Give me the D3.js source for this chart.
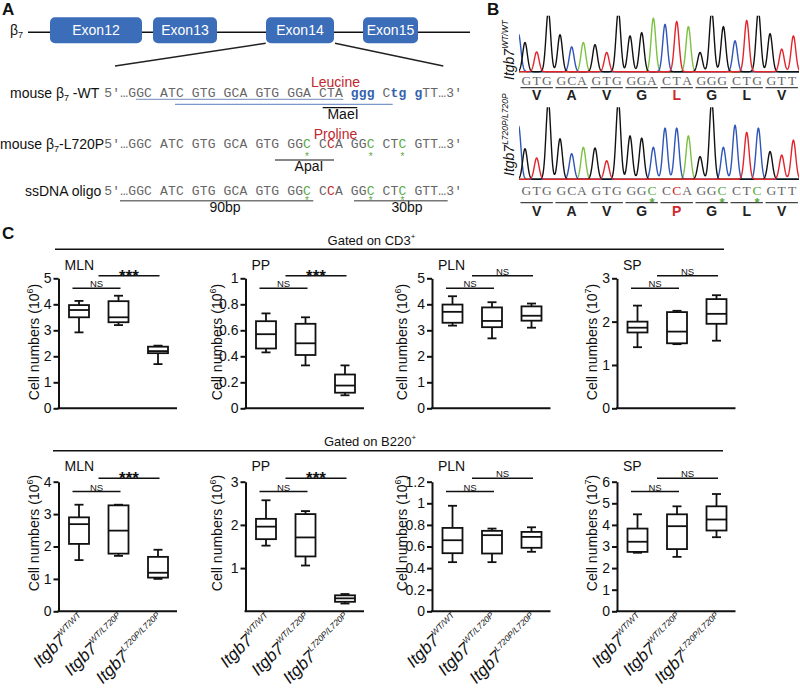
<!DOCTYPE html>
<html><head><meta charset="utf-8">
<script src="https://cdn.jsdelivr.net/npm/d3@7"></script>
<style>body{margin:0;background:#fff}svg{display:block}</style>
</head><body>
<svg id="fig" width="800" height="689"></svg>
<script>
// ---------------- DATA ----------------
const exonNames = ["Exon12","Exon13","Exon14","Exon15"];
const exonStart = [50,153,266,363];
const exonEnd = [142,217,334,418];
const seqWT  = "5′…GGC ATC GTG GCA GTG GGA CTA ggg Ctg gTT…3′";
const seqMut = "5′…GGC ATC GTG GCA GTG GGC CCA GGC CTC GTT…3′";
const mutGreen = [25,33,37];
const mutRed = [28];

const codonsWT  = ["GTG","GCA","GTG","GGA","CTA","GGG","CTG","GTT"];
const aminoWT   = ["V","A","V","G","L","G","L","V"];
const codonsMut = ["GTG","GCA","GTG","GGC","CCA","GGC","CTC","GTT"];
const aminoMut  = ["V","A","V","G","P","G","L","V"];
const mutBaseGreen = [11,17,20];
const mutBaseRed = [13];
// peak intensities per base (100 = top of window)
const peaksWT  = [53,36,110,67,45,53,49,35,110,65,71,97,86,91,82,35,110,82,56,93,110,69,41,65];
const peaksMut = [43,30,110,57,36,45,44,26,110,61,58,45,72,72,61,32,110,45,76,66,72,39,34,55];
const preWT = {base:"C", pos:-0.55, h:68};
const preMut = {base:"C", pos:-0.55, h:75};

const genotypes = ["WT/WT","WT/L720P","L720P/L720P"];
// box stats: [min, q1, median, q3, max]
const cd3MLN = [[2.92,3.50,3.78,3.97,4.13],[3.20,3.31,3.50,4.12,4.33],[1.70,2.12,2.20,2.37,2.41]];
const cd3PP  = [[0.43,0.46,0.57,0.67,0.73],[0.33,0.41,0.50,0.65,0.70],[0.10,0.12,0.175,0.26,0.33]];
const cd3PLN = [[3.18,3.29,3.71,3.99,4.31],[2.69,3.12,3.36,3.88,4.08],[3.10,3.37,3.56,3.92,4.03]];
const cd3SP  = [[1.41,1.75,1.86,2.00,2.37],[1.48,1.50,1.77,2.22,2.25],[1.56,1.95,2.18,2.52,2.61]];
const b220MLN = [[1.58,2.08,2.69,2.90,3.29],[1.71,1.78,2.49,3.27,3.29],[1.00,1.04,1.19,1.68,1.90]];
const b220PP  = [[1.52,1.67,1.96,2.14,2.57],[1.06,1.27,1.71,2.25,2.32],[0.18,0.22,0.30,0.37,0.40]];
const b220PLN = [[0.455,0.538,0.658,0.772,0.977],[0.455,0.535,0.705,0.745,0.766],[0.551,0.588,0.689,0.735,0.778]];
const b220SP  = [[2.71,2.75,3.22,3.83,4.49],[2.52,2.88,3.94,4.49,4.86],[3.43,3.74,4.25,4.86,5.43]];

const ticks5 = [0,1,2,3,4,5];
const ticks1 = [0,0.2,0.4,0.6,0.8,1];
const ticks3 = [0,1,2,3];
const ticks4 = [0,1,2,3,4];
const ticksPP2 = [1,2,3];
const ticks12 = [0,0.2,0.4,0.6,0.8,1,1.2];
const ticks6 = [0,1,2,3,4,5,6];

const panelNames = ["MLN","PP","PLN","SP"];
const sigCD3  = [["NS","***"],["NS","***"],["NS","NS"],["NS","NS"]];
const sigB220 = [["NS","***"],["NS","***"],["NS","NS"],["NS","NS"]];

// ---------------- DRAW ----------------
const SANS = "'Liberation Sans', Arial, Helvetica, sans-serif";
const MONO = "'Liberation Mono', 'Courier New', monospace";
const SERIF = "'Liberation Serif', 'Times New Roman', serif";
const svg = d3.select("#fig");
svg.append("rect").attr("width",800).attr("height",689).attr("fill","#fff");

// panel letters
[["A",2,14.5],["B",487,14.5],["C",2,239]].forEach(([t,x,y])=>{
  svg.append("text").attr("x",x).attr("y",y).attr("font-family",SANS)
    .attr("font-size",17).attr("font-weight","bold").attr("fill","#111").text(t);
});

// ===== Panel A =====
const A = svg.append("g");
const gx = d3.scaleLinear().domain([0,470]).range([0,470]);
A.append("text").attr("x",10).attr("y",35).attr("font-family",SANS).attr("font-size",14).attr("fill","#111")
  .call(t=>{t.append("tspan").text("β");t.append("tspan").attr("font-size",9).attr("dy",3).text("7");});
A.append("line").attr("x1",gx(28)).attr("x2",gx(470)).attr("y1",32.3).attr("y2",32.3).attr("stroke","#111").attr("stroke-width",1.5);
A.selectAll(".exon").data(exonNames).join("rect")
  .attr("x",(d,i)=>gx(exonStart[i])).attr("width",(d,i)=>gx(exonEnd[i])-gx(exonStart[i]))
  .attr("y",17.3).attr("height",26).attr("rx",5).attr("fill","#3b6db8");
A.selectAll(".exonT").data(exonNames).join("text")
  .attr("x",(d,i)=>(gx(exonStart[i])+gx(exonEnd[i]))/2).attr("y",35).attr("text-anchor","middle")
  .attr("font-family",SANS).attr("font-size",14).attr("fill","#fff").text(d=>d);
A.append("line").attr("x1",265.7).attr("y1",43.3).attr("x2",115).attr("y2",66).attr("stroke","#222").attr("stroke-width",1.5);
A.append("line").attr("x1",335).attr("y1",43.3).attr("x2",443.3).attr("y2",66).attr("stroke","#222").attr("stroke-width",1.5);

const seqX0 = 104.3, charW = 7.95;
const cx = i => seqX0 + (i+0.5)*charW;
function drawSeq(str, y, colorFn){
  A.append("g").selectAll("text").data(Array.from(str)).join("text")
    .attr("x",(d,i)=>cx(i)).attr("y",y).attr("text-anchor","middle")
    .attr("font-family",MONO).attr("font-size",13)
    .attr("font-weight",(d,i)=>colorFn(d,i)==="#3462ae"?"bold":"normal")
    .attr("fill",(d,i)=>colorFn(d,i)).text(d=>d);
}
function label(txt, x, y, opts={}){
  const t = A.append("text").attr("x",x).attr("y",y).attr("font-family",SANS)
    .attr("font-size",opts.size||14).attr("fill",opts.fill||"#111")
    .attr("text-anchor",opts.anchor||"start");
  t.text(txt); return t;
}
// row 1
A.append("text").attr("x",10).attr("y",97.5).attr("font-family",SANS).attr("font-size",14).attr("fill","#111")
  .call(t=>{t.append("tspan").text("mouse β");t.append("tspan").attr("font-size",9).attr("dy",3).text("7");t.append("tspan").attr("dy",-3).text(" -WT");});
drawSeq(seqWT, 97.3, (d)=> (d>="a"&&d<="z") ? "#3462ae" : "#666");
label("Leucine",335.5,86.5,{fill:"#c1272d",anchor:"middle"});
A.append("line").attr("x1",136).attr("x2",343.3).attr("y1",99.3).attr("y2",99.3).attr("stroke","#8da2c6").attr("stroke-width",1.2);
A.append("line").attr("x1",175).attr("x2",392.7).attr("y1",104.3).attr("y2",104.3).attr("stroke","#7a97cc").attr("stroke-width",1.2);
A.append("line").attr("x1",322.7).attr("x2",357.3).attr("y1",107.7).attr("y2",107.7).attr("stroke","#111").attr("stroke-width",1.2);
label("MaeI",343,118.5,{anchor:"middle"});
// row 2
A.append("text").attr("x",0).attr("y",148.5).attr("font-family",SANS).attr("font-size",14).attr("fill","#111")
  .call(t=>{t.append("tspan").text("mouse β");t.append("tspan").attr("font-size",9).attr("dy",3).text("7");t.append("tspan").attr("dy",-3).text("-L720P");});
const mutColor = (d,i)=> mutGreen.includes(i) ? "#5aa845" : mutRed.includes(i) ? "#c1272d" : "#666";
drawSeq(seqMut, 148.3, mutColor);
label("Proline",335.5,138.5,{fill:"#c1272d",anchor:"middle"});
A.append("g").selectAll("text").data(mutGreen).join("text").attr("x",d=>cx(d)).attr("y",159.5)
  .attr("text-anchor","middle").attr("font-family",SANS).attr("font-size",10).attr("fill","#5aa845").text("*");
A.append("line").attr("x1",275).attr("x2",334).attr("y1",160).attr("y2",160).attr("stroke","#111").attr("stroke-width",1.2);
label("ApaI",309,171,{anchor:"middle"});
// row 3
label("ssDNA  oligo",25,195.5);
drawSeq(seqMut, 195, mutColor);
A.append("g").selectAll("text").data(mutGreen).join("text").attr("x",d=>cx(d)).attr("y",204)
  .attr("text-anchor","middle").attr("font-family",SANS).attr("font-size",10).attr("fill","#5aa845").text("*");
A.append("line").attr("x1",120).attr("x2",313.3).attr("y1",200.7).attr("y2",200.7).attr("stroke","#777").attr("stroke-width",1.5);
A.append("line").attr("x1",354).attr("x2",447.7).attr("y1",200.7).attr("y2",200.7).attr("stroke","#777").attr("stroke-width",1.5);
label("90bp",225,212,{anchor:"middle"});
label("30bp",407,212,{anchor:"middle"});

// ===== Panel B =====
const baseColor = {G:"#111111", A:"#7cc242", T:"#e3242b", C:"#2f55b8"};
const bx = d3.scaleLinear().domain([0,23]).range([525,793.4]);
const B = svg.append("g");
const defs = svg.append("defs");
function chrom(codons, peaks, pre, baseY, winH, clipId, amino, seqY, ulY, aaY, aaRed, greenIdx, redIdx, labelY, sup){
  const bases = Array.from(codons.join(""));
  const yS = d3.scaleLinear().domain([0,100]).range([baseY, baseY-winH]);
  defs.append("clipPath").attr("id",clipId).append("rect").attr("x",519).attr("y",baseY-winH-1).attr("width",280).attr("height",winH+4);
  const pk = bases.map((b,i)=>({base:b,pos:i,h:peaks[i]})).concat([pre]);
  const sigma = 0.2; // in base units
  const xs = d3.range(-1.2, 23.8, 0.02);
  const order = ["A","C","G","T"];
  const g = B.append("g").attr("clip-path",`url(#${clipId})`);
  order.forEach(c=>{
    const mine = pk.filter(p=>p.base===c);
    const pts = xs.map(x=>{
      let v = 0; mine.forEach(p=>{ v += p.h*Math.exp(-((x-p.pos)**2)/(2*sigma*sigma)); });
      return [x, Math.min(v,104)];
    });
    g.append("path").attr("d", d3.line().x(d=>bx(d[0])).y(d=>yS(d[1]))(pts))
      .attr("fill","none").attr("stroke",baseColor[c]).attr("stroke-width",1.4);
  });
  // sequence letters, grouped per codon
  const lx = i => bx(3*Math.floor(i/3)+1) + ((i%3)-1)*10.3;
  B.append("g").selectAll("text").data(bases).join("text")
    .attr("x",(d,i)=>lx(i)).attr("y",seqY).attr("text-anchor","middle")
    .attr("font-family",SERIF).attr("font-size",13.5)
    .attr("fill",(d,i)=>greenIdx.includes(i)?"#5aa845":redIdx.includes(i)?"#d0282e":"#666").text(d=>d);
  B.append("g").selectAll("text").data(greenIdx).join("text")
    .attr("x",d=>lx(d)).attr("y",seqY+12).attr("text-anchor","middle")
    .attr("font-family",SANS).attr("font-size",13).attr("font-weight","bold").attr("fill","#5aa845").text("*");
  B.append("g").selectAll("line").data(codons).join("line")
    .attr("x1",(d,i)=>bx(3*i+1)-16.2).attr("x2",(d,i)=>bx(3*i+1)+16.2).attr("y1",ulY).attr("y2",ulY)
    .attr("stroke","#444").attr("stroke-width",1.2);
  B.append("g").selectAll("text").data(amino).join("text")
    .attr("x",(d,i)=>bx(3*i+1)).attr("y",aaY).attr("text-anchor","middle")
    .attr("font-family",SANS).attr("font-size",14).attr("font-weight","bold")
    .attr("fill",(d,i)=>i===aaRed?"#d0282e":"#222").text(d=>d);
  B.append("text").attr("transform",`translate(514,${labelY}) rotate(-90)`)
    .attr("font-family",SANS).attr("font-style","italic").attr("fill","#111")
    .call(t=>{t.append("tspan").attr("font-size",14).text("Itgb7");t.append("tspan").attr("font-size",8.5).attr("dy",-6).text(sup);});
}
chrom(codonsWT, peaksWT, preWT, 71.7, 55, "clipTop", aminoWT, 85, 87.7, 99.5, 4, [], [], 80, "WT/WT");
chrom(codonsMut, peaksMut, preMut, 179.3, 71, "clipBot", aminoMut, 195, 202.7, 216, 4, mutBaseGreen, mutBaseRed, 176, "L720P/L720P");

// ===== Panel C =====
const C = svg.append("g");
const colAxisX = [58.5, 245.5, 432, 617];
const ylabOff = [-20, -24, -25, -20];
const rows = [
  {gate:"CD3", gateY:245, lineY:249.3, lineX:[55,724], y0:408.3, y1:278.3, titleY:270, sigY:[288.3,275.7], ylabY:342,
   data:[cd3MLN,cd3PP,cd3PLN,cd3SP], max:[5,1,5,3], ticks:[ticks5,ticks1,ticks5,ticks3], exp:[6,6,6,7], sig:sigCD3, xlab:false},
  {gate:"B220", gateY:445.5, lineY:450.7, lineX:[53,723], y0:611.3, y1:481.7, titleY:471, sigY:[491.5,478.3], ylabY:533,
   data:[b220MLN,b220PP,b220PLN,b220SP], max:[4,3,1.2,6], ticks:[ticks4,ticksPP2,ticks12,ticks6], exp:[6,6,6,7], sig:sigB220, xlab:true}
];
rows.forEach(r=>{
  C.append("text").attr("x",(r.lineX[0]+r.lineX[1])/2 - 18).attr("y",r.gateY).attr("text-anchor","middle")
    .attr("font-family",SANS).attr("font-size",13).attr("fill","#111")
    .call(t=>{t.append("tspan").text("Gated on "+r.gate);t.append("tspan").attr("font-size",8).attr("dy",-6).text("+");});
  C.append("line").attr("x1",r.lineX[0]).attr("x2",r.lineX[1]).attr("y1",r.lineY).attr("y2",r.lineY).attr("stroke","#111").attr("stroke-width",1.5);
  panelNames.forEach((name,k)=>{
    const ax = colAxisX[k];
    const g = C.append("g");
    const x = d3.scalePoint().domain(genotypes).range([ax+20.5, ax+99.5]);
    const y = d3.scaleLinear().domain([0,r.max[k]]).range([r.y0,r.y1]);
    const yAxis = g.append("g").attr("transform",`translate(${ax},0)`)
      .call(d3.axisLeft(y).tickValues(r.ticks[k]).tickSize(5).tickSizeOuter(0).tickPadding(2).tickFormat(d=>String(d)));
    yAxis.select(".domain").attr("stroke","#111").attr("stroke-width",2);
    yAxis.selectAll(".tick line").attr("stroke","#111").attr("stroke-width",2);
    yAxis.selectAll(".tick text").attr("font-family",SANS).attr("font-size",14).attr("fill","#111");
    g.append("line").attr("x1",ax-1).attr("x2",ax+118.5).attr("y1",r.y0).attr("y2",r.y0).attr("stroke","#111").attr("stroke-width",2);
    // title
    g.append("text").attr("x",ax+6).attr("y",r.titleY).attr("font-family",SANS).attr("font-size",14).attr("fill","#111").text(name);
    // y label
    g.append("text").attr("transform",`translate(${ax+ylabOff[k]},${r.ylabY}) rotate(-90)`).attr("text-anchor","middle")
      .attr("font-family",SANS).attr("font-size",14).attr("fill","#111")
      .call(t=>{t.append("tspan").text("Cell numbers (10");t.append("tspan").attr("font-size",9).attr("dy",-6).text(r.exp[k]);t.append("tspan").attr("dy",6).text(")");});
    // boxes
    const bw = 20, cw = 9;
    const boxes = g.selectAll(".box").data(r.data[k].map((s,i)=>({g:genotypes[i],s}))).join("g");
    boxes.each(function(d){
      const b = d3.select(this), c = x(d.g), s = d.s;
      const st = sel=>sel.attr("stroke","#111").attr("stroke-width",1.8).attr("fill","none");
      b.append("line").attr("x1",c).attr("x2",c).attr("y1",y(s[0])).attr("y2",y(s[1])).call(st);
      b.append("line").attr("x1",c).attr("x2",c).attr("y1",y(s[3])).attr("y2",y(s[4])).call(st);
      b.append("line").attr("x1",c-cw/2).attr("x2",c+cw/2).attr("y1",y(s[0])).attr("y2",y(s[0])).call(st);
      b.append("line").attr("x1",c-cw/2).attr("x2",c+cw/2).attr("y1",y(s[4])).attr("y2",y(s[4])).call(st);
      b.append("rect").attr("x",c-bw/2).attr("width",bw).attr("y",y(s[3])).attr("height",y(s[1])-y(s[3])).call(st);
      b.append("line").attr("x1",c-bw/2).attr("x2",c+bw/2).attr("y1",y(s[2])).attr("y2",y(s[2])).call(st);
    });
    // significance
    const brackets = [{lab:r.sig[k][0], x1:ax+14, x2:ax+62, y:r.sigY[0]},{lab:r.sig[k][1], x1:ax+40, x2:ax+101, y:r.sigY[1]}];
    brackets.forEach(bk=>{
      g.append("line").attr("x1",bk.x1).attr("x2",bk.x2).attr("y1",bk.y).attr("y2",bk.y).attr("stroke","#111").attr("stroke-width",1.5);
      const star = bk.lab==="***";
      g.append("text").attr("x",(bk.x1+bk.x2)/2).attr("y",star?bk.y+6:bk.y-1).attr("text-anchor","middle")
        .attr("font-family",SANS).attr("font-size",star?17:9.5).attr("font-weight",star?"bold":"normal").attr("fill","#111").text(bk.lab);
    });
    // x labels
    if(r.xlab){
      g.selectAll(".xl").data(genotypes).join("text")
        .attr("transform",d=>`translate(${x(d)+8},${r.y0+10}) rotate(-45)`).attr("text-anchor","end")
        .attr("font-family",SANS).attr("font-style","italic").attr("fill","#111")
        .each(function(d){const t=d3.select(this);t.append("tspan").attr("font-size",17).text("Itgb7");t.append("tspan").attr("font-size",8.5).attr("dy",-8).text(d);});
    }
  });
});
</script>
</body></html>
